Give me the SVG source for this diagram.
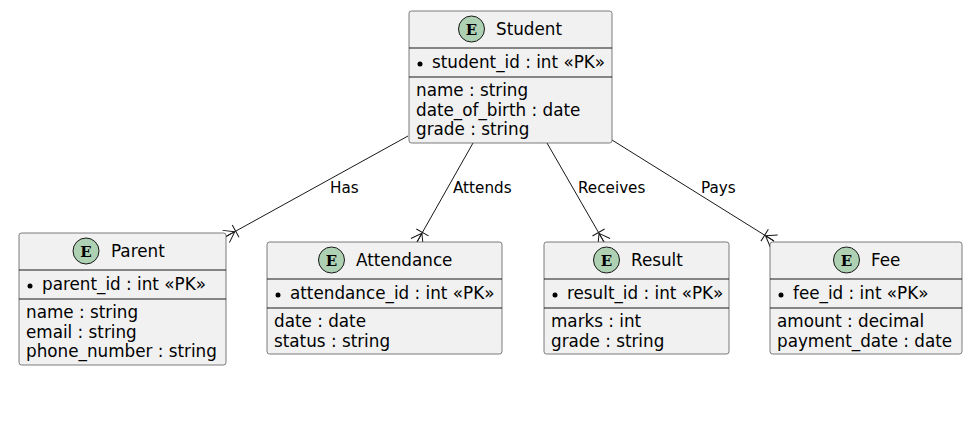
<svg xmlns="http://www.w3.org/2000/svg" width="967" height="424" viewBox="0 0 967 424">
<defs>
<style>
.box{fill:#F1F1F1;stroke:#5A5A5A;stroke-width:0.8}
.div{stroke:#181818;stroke-width:1}
.circ{fill:#ADD1B2;stroke:#181818;stroke-width:1}
.E{font-family:"DejaVu Serif",serif;font-weight:bold;font-size:15px;fill:#000}
.t{font-family:"DejaVu Sans",sans-serif;font-size:16.8px;fill:#000}
.lbl{font-family:"DejaVu Sans",sans-serif;font-size:15.2px;fill:#000}
.edge{stroke:#181818;stroke-width:1;fill:none}
.dot{fill:#000}
</style>
<marker id="crow" markerUnits="userSpaceOnUse" viewBox="-14 -9 16 18" refX="0" refY="0" markerWidth="16" markerHeight="18" orient="auto" overflow="visible">
<path d="M-10,0 L0,-7 M-10,0 L0,0 M-10,0 L0,7 M-11,-7 L-11,7" stroke="#181818" stroke-width="1" fill="none"/>
</marker>
</defs>
<g id="connectors">
<line class="edge" x1="408" y1="136" x2="226" y2="236.5" marker-end="url(#crow)"/>
<text class="lbl" x="330" y="193">Has</text>
<line class="edge" x1="473" y1="143" x2="417" y2="242" marker-end="url(#crow)"/>
<text class="lbl" x="453" y="193">Attends</text>
<line class="edge" x1="547" y1="143" x2="604" y2="242" marker-end="url(#crow)"/>
<text class="lbl" x="578" y="193">Receives</text>
<line class="edge" x1="612" y1="140" x2="774" y2="241" marker-end="url(#crow)"/>
<text class="lbl" x="701" y="193">Pays</text>
</g>
<g id="Student">
<rect class="box" x="409" y="11" width="203" height="132" rx="2.5"/>
<circle class="circ" cx="471.5" cy="29" r="13"/>
<text class="E" x="471.5" y="34.5" text-anchor="middle">E</text>
<text class="t" x="496" y="35">Student</text>
<line class="div" x1="409" y1="48" x2="612" y2="48"/>
<circle class="dot" cx="420" cy="64" r="2.5"/>
<text class="t" x="432" y="68">student_id : int «PK»</text>
<line class="div" x1="409" y1="77" x2="612" y2="77"/>
<text class="t" x="416" y="96">name : string</text>
<text class="t" x="416" y="115.5">date_of_birth : date</text>
<text class="t" x="416" y="135">grade : string</text>
</g>
<g id="Parent">
<rect class="box" x="19" y="233" width="207" height="132" rx="2.5"/>
<circle class="circ" cx="86" cy="251" r="13"/>
<text class="E" x="86" y="256.5" text-anchor="middle">E</text>
<text class="t" x="111" y="257">Parent</text>
<line class="div" x1="19" y1="270" x2="226" y2="270"/>
<circle class="dot" cx="30" cy="286" r="2.5"/>
<text class="t" x="42" y="290">parent_id : int «PK»</text>
<line class="div" x1="19" y1="299" x2="226" y2="299"/>
<text class="t" x="26" y="318">name : string</text>
<text class="t" x="26" y="337.5">email : string</text>
<text class="t" x="26" y="357">phone_number : string</text>
</g>
<g id="Attendance">
<rect class="box" x="267" y="242" width="235" height="112" rx="2.5"/>
<circle class="circ" cx="331.5" cy="260" r="13"/>
<text class="E" x="331.5" y="265.5" text-anchor="middle">E</text>
<text class="t" x="356" y="266">Attendance</text>
<line class="div" x1="267" y1="279" x2="502" y2="279"/>
<circle class="dot" cx="278" cy="295" r="2.5"/>
<text class="t" x="290" y="299">attendance_id : int «PK»</text>
<line class="div" x1="267" y1="308" x2="502" y2="308"/>
<text class="t" x="274" y="327">date : date</text>
<text class="t" x="274" y="346.5">status : string</text>
</g>
<g id="Result">
<rect class="box" x="544" y="242" width="185" height="112" rx="2.5"/>
<circle class="circ" cx="606.5" cy="260" r="13"/>
<text class="E" x="606.5" y="265.5" text-anchor="middle">E</text>
<text class="t" x="631" y="266">Result</text>
<line class="div" x1="544" y1="279" x2="729" y2="279"/>
<circle class="dot" cx="555" cy="295" r="2.5"/>
<text class="t" x="567" y="299">result_id : int «PK»</text>
<line class="div" x1="544" y1="308" x2="729" y2="308"/>
<text class="t" x="551" y="327">marks : int</text>
<text class="t" x="551" y="346.5">grade : string</text>
</g>
<g id="Fee">
<rect class="box" x="770" y="242" width="192" height="112" rx="2.5"/>
<circle class="circ" cx="846.5" cy="260" r="13"/>
<text class="E" x="846.5" y="265.5" text-anchor="middle">E</text>
<text class="t" x="871" y="266">Fee</text>
<line class="div" x1="770" y1="279" x2="962" y2="279"/>
<circle class="dot" cx="781" cy="295" r="2.5"/>
<text class="t" x="793" y="299">fee_id : int «PK»</text>
<line class="div" x1="770" y1="308" x2="962" y2="308"/>
<text class="t" x="777" y="327">amount : decimal</text>
<text class="t" x="777" y="346.5">payment_date : date</text>
</g>
</svg>
